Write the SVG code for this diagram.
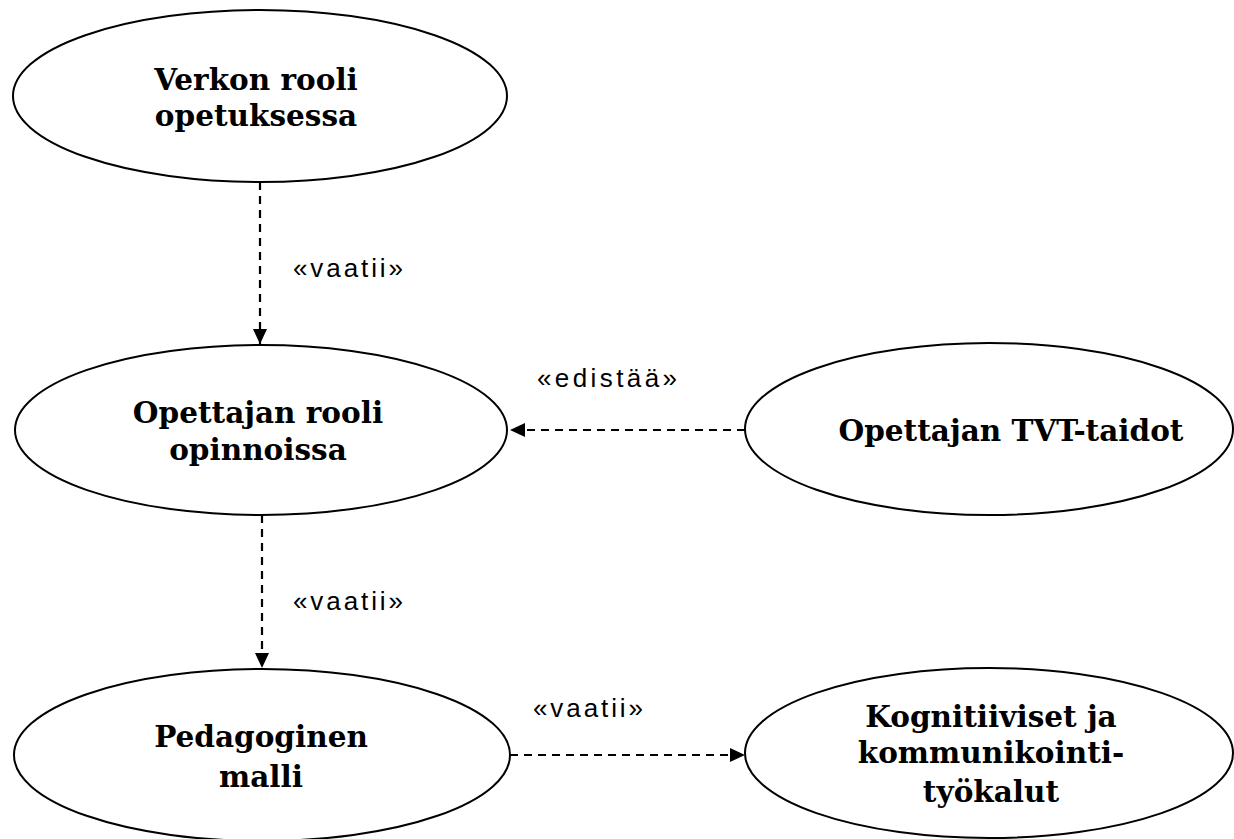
<svg xmlns="http://www.w3.org/2000/svg" width="1234" height="839" viewBox="0 0 1234 839">
<style>
.node ellipse{fill:#fff;stroke:#000;stroke-width:2}
.node text{font-family:"DejaVu Serif","Liberation Serif",serif;font-weight:bold;font-size:29.5px;text-anchor:middle;fill:#000}
.conn line{stroke:#000;stroke-width:2.2;stroke-dasharray:8 6;fill:none}
.lbl{font-family:"Liberation Sans",Arial,sans-serif;font-size:26px;fill:#000}
</style>
<defs>
<marker id="arr" viewBox="0 0 15 14" refX="15" refY="7" markerWidth="15" markerHeight="14" markerUnits="userSpaceOnUse" orient="auto">
<path d="M0,0 L15,7 L0,14 Z" fill="#000"/>
</marker>
</defs>
<rect width="1234" height="839" fill="#fff"/>
<g id="connectors" class="conn">
<line x1="260" y1="182" x2="260" y2="344" marker-end="url(#arr)"/>
<line x1="745" y1="430" x2="510" y2="430" marker-end="url(#arr)"/>
<line x1="262" y1="515" x2="262" y2="668" marker-end="url(#arr)"/>
<line x1="510" y1="755" x2="745" y2="755" marker-end="url(#arr)"/>
<text class="lbl" x="293" y="277" textLength="110" lengthAdjust="spacing">«vaatii»</text>
<text class="lbl" x="537" y="387" textLength="140" lengthAdjust="spacing">«edistää»</text>
<text class="lbl" x="293" y="610" textLength="110" lengthAdjust="spacing">«vaatii»</text>
<text class="lbl" x="533" y="717" textLength="110" lengthAdjust="spacing">«vaatii»</text>
</g>
<g id="n1" class="node">
<ellipse cx="260" cy="96" rx="247" ry="86"/>
<text x="256" y="90">Verkon rooli</text>
<text x="256" y="126">opetuksessa</text>
</g>
<g id="n2" class="node">
<ellipse cx="261" cy="430" rx="246" ry="85"/>
<text x="258" y="423">Opettajan rooli</text>
<text x="258" y="460">opinnoissa</text>
</g>
<g id="n3" class="node">
<ellipse cx="989" cy="429" rx="244" ry="86"/>
<text x="1011" y="441">Opettajan TVT-taidot</text>
</g>
<g id="n4" class="node">
<ellipse cx="262" cy="755" rx="248" ry="86"/>
<text x="261" y="747">Pedagoginen</text>
<text x="261" y="787">malli</text>
</g>
<g id="n5" class="node">
<ellipse cx="989" cy="753" rx="244" ry="85"/>
<text x="991" y="727">Kognitiiviset ja</text>
<text x="991" y="763">kommunikointi-</text>
<text x="991" y="802">työkalut</text>
</g>
</svg>
